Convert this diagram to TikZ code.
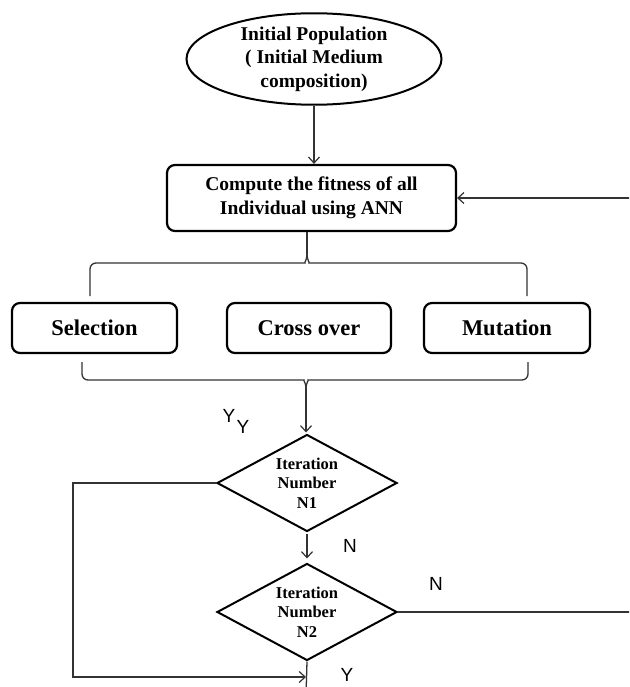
\documentclass[tikz,border=0pt]{standalone}
\usepackage{fontspec}
\setmainfont{Liberation Serif}
\newfontfamily\labfont{Liberation Sans}
\usetikzlibrary{shapes.geometric,arrows.meta}
\begin{document}
\begin{tikzpicture}[x=1pt,y=-1pt,
  boxstyle/.style={draw=black,line width=2.2pt,rounded corners=8pt,align=center,
    font=\fontsize{19.5}{24}\selectfont\bfseries,inner sep=0pt},
  decstyle/.style={draw=black,line width=2pt,shape=diamond,aspect=1.86,inner sep=0pt,
    minimum width=180pt,minimum height=97pt,align=center,
    font=\fontsize{16.5}{19.5}\selectfont\bfseries},
  conn/.style={draw=black!80,line width=1.3pt},
  arr/.style={conn,-{Straight Barb[length=6pt,width=11pt,line width=1.2pt]}},
  lab/.style={font=\labfont\fontsize{19}{19}\selectfont,inner sep=0pt}]
\useasboundingbox (0,0) rectangle (629,687);
\clip (0,0) rectangle (629,687);

% nodes
\node[draw=black,line width=2pt,ellipse,minimum width=255pt,minimum height=91pt,inner sep=0pt,
  align=center,font=\fontsize{19.5}{23.5}\selectfont\bfseries] (ell) at (314,59)
  {Initial Population\\( Initial Medium\\composition)};
\node[boxstyle,minimum width=289pt,minimum height=66pt] (cb) at (311.5,198)
  {Compute the fitness of all\\Individual using ANN};
\node[boxstyle,minimum width=165pt,minimum height=50pt,font=\fontsize{22.5}{24}\selectfont\bfseries] (sel) at (94.5,328) {Selection};
\node[boxstyle,minimum width=164pt,minimum height=50pt,font=\fontsize{22.5}{24}\selectfont\bfseries] (cro) at (309,328) {Cross over};
\node[boxstyle,minimum width=166pt,minimum height=50pt,font=\fontsize{22.5}{24}\selectfont\bfseries] (mut) at (507,328) {Mutation};
\node[decstyle] (d1) at (307,483) {Iteration\\Number\\N1};
\node[decstyle] (d2) at (307,612) {Iteration\\Number\\N2};

% coordinates
\coordinate (rin) at (632,198);
\coordinate (tcusp) at (307,254);
\coordinate (bcusp) at (306,388);
\coordinate (lft) at (73,483);
\coordinate (lbot) at (73,677);
\coordinate (join) at (306,677);
\coordinate (rout) at (632,612);
\coordinate (bot) at (306,695);

% connectors
\draw[arr] (ell.south) -- (ell.south |- cb.north);
\draw[arr] (rin) -- (cb.east);
\draw[conn] (cb.south -| tcusp) -- (tcusp);
% top brace
\draw[conn,rounded corners=6pt] (90,296) -- (90,263) -- (299,263)
  .. controls (304,263) and (307,260) .. (tcusp);
\draw[conn,rounded corners=6pt] (527,296) -- (527,263) -- (315,263)
  .. controls (310,263) and (307,260) .. (tcusp);
% bottom brace
\draw[conn,rounded corners=6pt] (82,362) -- (82,380) -- (298,380)
  .. controls (303,380) and (306,383) .. (bcusp);
\draw[conn,rounded corners=6pt] (528,362) -- (528,380) -- (314,380)
  .. controls (309,380) and (306,383) .. (bcusp);
\draw[arr,shorten >=1pt] (bcusp) -- (bcusp |- d1.north);
% loops
\draw[arr] (d1.west) -- (lft) -- (lbot) -- (join);
\draw[arr,shorten <=1pt,shorten >=4pt] (d1.south) -- (d2.north);
\draw[conn] (d2.east) -- (rout);
\draw[arr] (d2.south) -- (bot);

% labels
\node[lab] (y1) at (229,416) {Y};
\node[lab] (y2) at (243,427) {Y};
\node[lab] (n1) at (350,546) {N};
\node[lab] (n2) at (436,584) {N};
\node[lab] (y3) at (347,675) {Y};
\end{tikzpicture}
\end{document}
